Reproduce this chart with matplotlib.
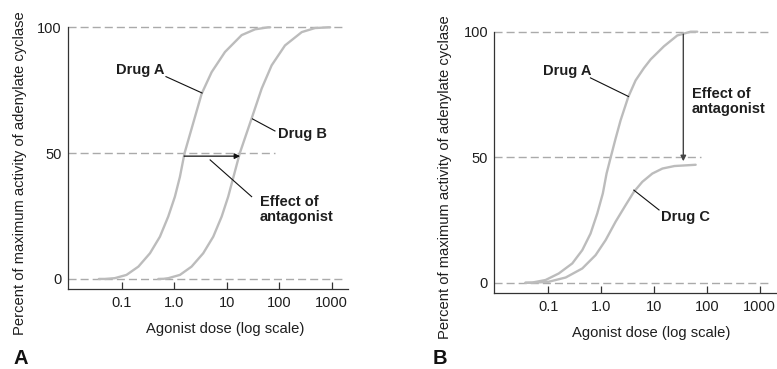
import matplotlib
matplotlib.use("Agg")
import matplotlib.pyplot as plt
from matplotlib.ticker import NullLocator

plt.rcParams['font.family'] = ['Liberation Sans', 'DejaVu Sans']

# ---- data -------------------------------------------------------------
tick_values = [0.1, 1, 10, 100, 1000]
tick_labels = ["0.1", "1.0", "10", "100", "1000"]
y_ticks = [0, 50, 100]

# Panel A: competitive antagonism (dose, percent of max activity)
a_drug_a_dose = [0.037, 0.048, 0.074, 0.124, 0.209, 0.347, 0.537, 0.773,
                 1.035, 1.29, 1.58, 2.15, 3.34, 5.18, 9.29, 19.3, 34.7,
                 61.7, 67.6]
a_drug_a_pct = [0, 0, 0.3, 1.6, 4.9, 10.2, 16.8, 24.8,
                32.7, 40.6, 50.0, 59.7, 73.6, 82.2, 90.2, 96.9, 99.2,
                100, 100]

a_drug_b_dose = [0.50, 0.63, 0.776, 1.29, 2.15, 3.58, 5.56, 8.04,
                 10.7, 13.5, 17.8, 29.9, 46.5, 71.9, 129, 269, 479,
                 861, 933]
a_drug_b_pct = [0, 0.05, 0.3, 1.6, 4.9, 10.2, 16.8, 24.8,
                32.7, 40.6, 50.0, 63.8, 75.7, 84.9, 92.8, 98.1, 99.7,
                100, 100]

# Panel B: noncompetitive antagonism
b_drug_a_dose = [0.037, 0.050, 0.089, 0.158, 0.285, 0.441, 0.632, 0.847,
                 1.08, 1.27, 1.51, 1.88, 2.34, 3.27, 4.50, 6.46, 8.7,
                 15.5, 27.7, 49.5, 66]
b_drug_a_pct = [0, 0.1, 1.1, 3.7, 7.7, 13.0, 19.6, 27.6,
                35.6, 43.5, 49.7, 57.4, 64.7, 74.0, 80.6, 85.5, 89.0,
                94.2, 98.5, 100, 100]

b_drug_c_dose = [0.037, 0.050, 0.102, 0.214, 0.441, 0.787, 1.22, 1.88,
                 2.91, 4.17, 6.03, 9.33, 14.5, 24.5, 61.7]
b_drug_c_pct = [0, 0, 0.4, 2.1, 5.7, 11.0, 17.0, 24.3,
                30.9, 36.2, 40.2, 43.5, 45.5, 46.5, 47.0]

ref_levels = [0, 50, 100]
a_ref_ends = [1640, 83, 1640]
b_ref_ends = [1500, 78, 1500]

# ---- style ------------------------------------------------------------
curve_color = "#bcbcbc"
dash_color = "#aaaaaa"
ink = "#1e1e1e"
x_lo, x_hi = 10 ** -2.02, 10 ** 3.31

fig = plt.figure(figsize=(7.77, 3.69), dpi=100)
axA = fig.add_axes([0.0875, 0.2168, 0.3604, 0.716])
axB = fig.add_axes([0.6362, 0.2051, 0.3625, 0.7158])


def style_axes(ax, y_bottom, ref_ends):
    ax.set_xscale("log")
    ax.set_xlim(x_lo, x_hi)
    ax.set_ylim(y_bottom, 101)
    for side in ("top", "right"):
        ax.spines[side].set_visible(False)
    for side in ("left", "bottom"):
        ax.spines[side].set_linewidth(0.9)
        ax.spines[side].set_color("#333333")
    ax.spines["left"].set_bounds(y_bottom, 100)
    ax.set_xticks(tick_values)
    ax.set_xticklabels(tick_labels)
    ax.xaxis.set_minor_locator(NullLocator())
    ax.set_yticks(y_ticks)
    ax.tick_params(axis="x", direction="in", length=5, width=0.9,
                   color="#333333", pad=5, labelsize=10.5, labelcolor=ink)
    ax.tick_params(axis="y", length=0, pad=4.5, labelsize=10.5, labelcolor=ink)
    for lvl, end in zip(ref_levels, ref_ends):
        ax.plot([x_lo, end], [lvl, lvl], color=dash_color, lw=1.0,
                ls=(0, (5.8, 2.9)), zorder=1, clip_on=False)
    ax.set_xlabel("Agonist dose (log scale)", fontsize=10.6, color=ink)
    ax.set_ylabel("Percent of maximum activity of adenylate cyclase",
                  fontsize=10.6, color=ink)


style_axes(axA, -4, a_ref_ends)
style_axes(axB, -4.2, b_ref_ends)

# label placement (axes fractions)
axA.xaxis.set_label_coords(0.56, -0.125)
axA.yaxis.set_label_coords(-0.146, 0.439)
axB.xaxis.set_label_coords(0.557, -0.122)
axB.yaxis.set_label_coords(-0.150, 0.441)

line_kw = dict(color=curve_color, lw=1.7, solid_capstyle="round",
               solid_joinstyle="round", zorder=3, clip_on=False)
lead_kw = dict(color="#111111", lw=0.8, zorder=4)
text_kw = dict(fontsize=10.5, fontweight="bold", color=ink)

# ---- panel A ----------------------------------------------------------
axA.plot(a_drug_a_dose, a_drug_a_pct, **line_kw)
axA.plot(a_drug_b_dose, a_drug_b_pct, **line_kw)

axA.annotate("", xy=(18.0, 48.8), xytext=(1.55, 48.8),
             arrowprops=dict(arrowstyle="-|>", color="#111111", lw=0.9,
                             mutation_scale=8, shrinkA=0, shrinkB=0),
             zorder=4)

axA.text(0.080, 83.2, "Drug A", ha="left", va="center", **text_kw)
axA.plot([0.70, 3.40], [80.4, 73.9], **lead_kw)

axA.text(95, 57.5, "Drug B", ha="left", va="center", **text_kw)
axA.plot([31.0, 83], [63.6, 58.8], **lead_kw)

axA.text(43, 27.6, "Effect of\nantagonist", ha="left", va="center",
         linespacing=1.05, **text_kw)
axA.plot([4.85, 29.9], [47.3, 32.7], **lead_kw)

# ---- panel B ----------------------------------------------------------
axB.plot(b_drug_a_dose, b_drug_a_pct, **line_kw)
axB.plot(b_drug_c_dose, b_drug_c_pct, **line_kw)

axB.annotate("", xy=(36, 48.4), xytext=(36, 99),
             arrowprops=dict(arrowstyle="-|>", color="#444444", lw=1.0,
                             mutation_scale=8, shrinkA=0, shrinkB=0),
             zorder=4)

axB.text(0.079, 84.3, "Drug A", ha="left", va="center", **text_kw)
axB.plot([0.63, 3.30], [81.6, 74.2], **lead_kw)

axB.text(13.9, 26.3, "Drug C", ha="left", va="center", **text_kw)
axB.plot([4.17, 12.5], [36.9, 29.0], **lead_kw)

axB.text(52, 72.2, "Effect of\nantagonist", ha="left", va="center",
         linespacing=1.05, **text_kw)

# ---- panel letters ----------------------------------------------------
fig.text(13 / 777, 1.2 / 369, "A", fontsize=14.5, fontweight="bold",
         color="#111111", ha="left", va="bottom")
fig.text(433 / 777, 1.2 / 369, "B", fontsize=14.5, fontweight="bold",
         color="#111111", ha="left", va="bottom")

fig.savefig("out.png", dpi=100)
